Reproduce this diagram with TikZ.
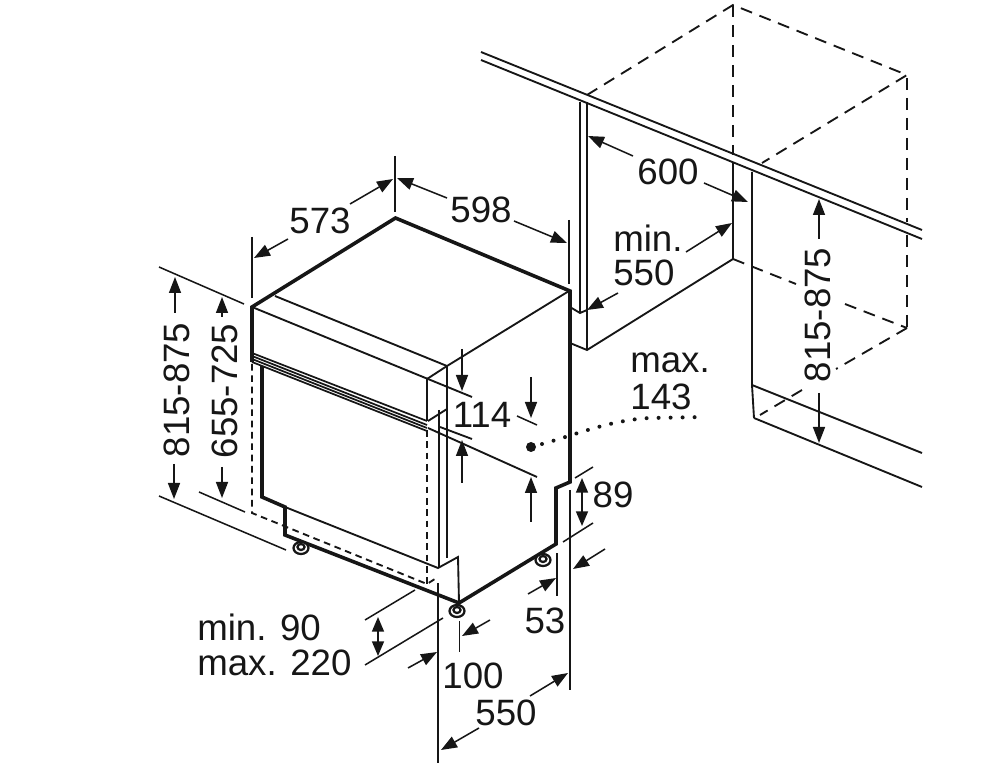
\documentclass[tikz,border=0pt]{standalone}
\usepackage{fontspec}
\setmainfont{Liberation Sans}
\usetikzlibrary{arrows.meta}
\definecolor{ink}{HTML}{161616}
\tikzset{
  x=0.75pt,y=-0.75pt,
  thinl/.style={draw=ink,line width=1.4pt},
  hair/.style={draw=ink,line width=1.15pt},
  thickl/.style={draw=ink,line width=2.7pt,line join=miter},
  dashl/.style={draw=ink,line width=1.4pt,dash pattern=on 9pt off 6pt},
  dashs/.style={draw=ink,line width=1.4pt,dash pattern=on 5pt off 3.5pt},
  dim/.style={draw=ink,line width=1.15pt,-{Triangle[length=12pt,width=9pt]}},
  dimboth/.style={draw=ink,line width=1.15pt,{Triangle[length=11pt,width=9pt]}-{Triangle[length=11pt,width=9pt]}},
  lbl/.style={font=\fontsize{27.5}{27.5}\selectfont,text=ink,inner sep=0pt},
  foot/.style={draw=ink,line width=1.7pt,fill=white}
}
\begin{document}
\begin{tikzpicture}
\useasboundingbox (0,0) rectangle (1000,780);
% --- cabinet (right)
\draw[thinl] (481,52) -- (922,230);
\draw[thinl] (481,60) -- (922,239);
\draw[thinl] (580,102) -- (580,312);
\draw[thinl] (587,102) -- (587,350);
\draw[thinl] (570,307) -- (580,313) -- (587,310);
\draw[thinl] (570,343) -- (587,350) -- (733,259) -- (733,163);
\draw[thinl] (752,172) -- (752,385) -- (754,418);
\draw[thinl] (752,385) -- (922,453);
\draw[thinl] (754,418) -- (922,487);
\draw[dashl] (587,95) -- (733,5) -- (907,75) -- (762,163);
\draw[dashl] (733,5) -- (733,155);
\draw[dashl] (907,78) -- (907,222);
\draw[dashl] (907,235) -- (907,327);
\draw[dashl] (733,259) -- (796,284);
\draw[dashl] (845,304) -- (907,328);
\draw[dashl] (907,328) -- (836,369);
\draw[dashl] (802,390) -- (760,415);
% --- machine top
\draw[thickl] (252,362) -- (252,307) -- (395.5,218) -- (570,291) -- (570,482) -- (556,488) -- (556,544) -- (459,603) -- (285,535) -- (285,507) -- (262,497) -- (262,366);
\draw[thinl] (275,296) -- (447,366) -- (569,291);
\draw[thinl] (252,307) -- (472,397);
\draw[thinl] (427,379) -- (447,366);
\draw[thinl] (427,379) -- (427,421);
\draw[thinl] (447,366) -- (447,558);
\draw[thinl] (439,410) -- (439,568);
\draw[thinl] (285,507) -- (438,568) -- (458,557) -- (459,603);
\draw[thinl] (428,421) -- (447,409);
% handle strip
\draw[draw=ink,line width=1.3pt] (252,353) -- (427,421);
\draw[draw=ink,line width=1.3pt] (252,356) -- (427,425);
\draw[draw=ink,line width=1.3pt] (252,359) -- (427,428);
\draw[draw=ink,line width=1.3pt] (252,362) -- (427,431);
\draw[thinl] (428,428) -- (537,477);
\draw[thinl] (440,427) -- (472,439);
% dashed frame
\draw[dashs] (252,364) -- (252,513) -- (427,584) -- (438,577);
\draw[dashs] (427,430) -- (427,584);
% feet
\foreach \px/\py in {301/548,457/611,543/560}{
  \draw[foot] (\px,\py) ellipse [x radius=7.5,y radius=6];
  \draw[foot] (\px,\py-1) ellipse [x radius=3.5,y radius=3];
}
% --- dimensions: extension lines
\draw[hair] (395,156) -- (395,212);
\draw[hair] (252,237) -- (252,298);
\draw[hair] (569,220) -- (569,284);
\draw[hair] (159,267) -- (244,304);
\draw[hair] (159,496) -- (286,550);
\draw[hair] (199,492) -- (245,512);
\draw[hair] (517,416) -- (537,425);
\draw[hair] (575,478) -- (593,467);
\draw[hair] (563,542) -- (593,523);
\draw[hair] (570,490) -- (570,690);
\draw[hair] (557,553) -- (557,596);
\draw[hair] (438,583) -- (438,763);
\draw[hair] (459.5,621) -- (459.5,652);
\draw[hair] (365,620) -- (415,590);
\draw[hair] (365,665) -- (443,618);
% --- dimensions: arrows
\draw[dim] (350,204) -- (393,179);
\draw[dim] (288,239) -- (254,258);
\draw[dim] (447,198) -- (397,178);
\draw[dim] (514,221) -- (567,243);
\draw[dim] (175,313) -- (175,277);
\draw[dim] (174,464) -- (174,499);
\draw[dim] (222,317) -- (222,297);
\draw[dim] (222,467) -- (222,498);
\draw[dim] (462,349) -- (462,391);
\draw[dim] (531,377) -- (531,418);
\draw[dim] (462,483) -- (462,440);
\draw[dim] (531,522) -- (531,477);
\draw[dimboth] (582,478) -- (582,526);
\draw[dimboth] (378,617) -- (378,656);
\draw[dim] (605,549) -- (573,569);
\draw[dim] (528,594) -- (556,578);
\draw[dim] (490,620) -- (462,636);
\draw[dim] (408,668) -- (437,652);
\draw[dim] (479,728) -- (441,750);
\draw[dim] (530,696) -- (568,673);
\draw[dim] (633,156) -- (588,136);
\draw[dim] (704,183) -- (748,202);
\draw[dim] (686,252) -- (732,223);
\draw[dim] (618,293) -- (587,310);
\draw[dim] (819,239) -- (819,199);
\draw[dim] (819,393) -- (819,443);
% dotted leader
\fill[ink] (531,447) circle [radius=5];
\draw[draw=ink,line width=3pt,line cap=round,dash pattern=on 0pt off 9pt] (542,444) .. controls (575,435) and (610,420) .. (650,418) -- (706,417);
% --- labels
\node[lbl] (t573) at (320,221) {573};
\node[lbl] (t598) at (481,210) {598};
\node[lbl,rotate=90] (t815a) at (177,390) {815-875};
\node[lbl,rotate=90] (t655) at (225,391) {655-725};
\node[lbl] (t114) at (482,415) {114};
\node[lbl] (t89) at (613,495) {89};
\node[lbl] (t53) at (545,621) {53};
\node[lbl] (t100) at (473,676) {100};
\node[lbl] (t550a) at (506,713) {550};
\node[lbl,anchor=west] (tmin) at (197,627) {min. 90};
\node[lbl,anchor=west] (tmax) at (197,663) {max. 220};
\node[lbl] (t600) at (668,172) {600};
\node[lbl,anchor=west] (tm2) at (613,238) {min.};
\node[lbl,anchor=west] (t550b) at (613,273) {550};
\node[lbl] (tmax2) at (670,363) {max.};
\node[lbl] (t143) at (661,397) {143};
\node[lbl,rotate=90] (t815b) at (818,315) {815-875};
\end{tikzpicture}
\end{document}
